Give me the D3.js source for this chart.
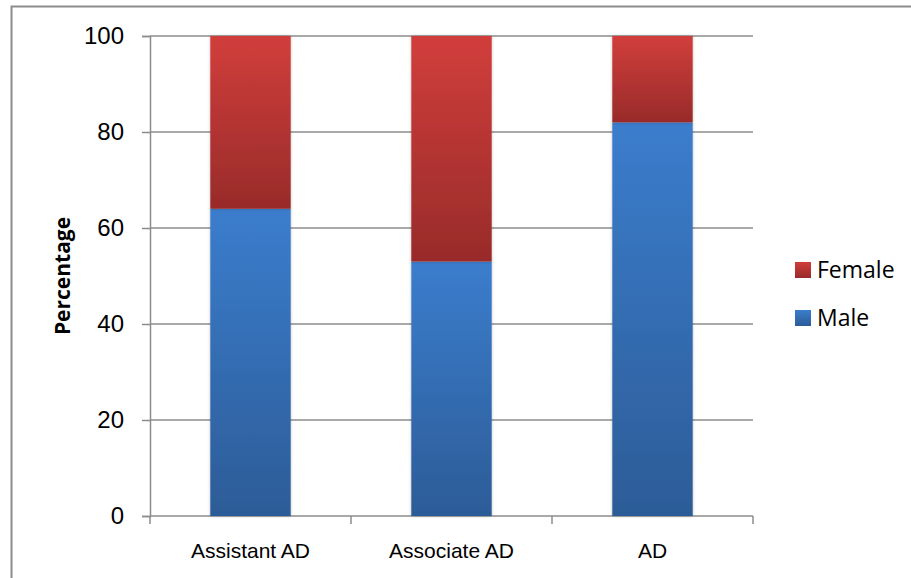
<!DOCTYPE html>
<html>
<head>
<meta charset="utf-8">
<script src="https://cdn.jsdelivr.net/npm/d3@7"></script>
<style>
  body { margin: 0; background: #fff; }
  svg { font-family: "Open Sans", sans-serif; }
</style>
</head>
<body>
<svg id="chart" width="911" height="578"></svg>
<script>
// data
var categories = ["Assistant AD", "Associate AD", "AD"];
var male = [64, 53, 82];
var female = [36, 47, 18];
var yTicks = [0, 20, 40, 60, 80, 100];

var svg = d3.select("#chart");
var margin = { left: 150, top: 36, right: 158, bottom: 62 };
var width = 911 - margin.left - margin.right,
  height = 578 - margin.top - margin.bottom;

// outer chart frame
svg.append("rect")
  .attr("x", 11.5).attr("y", 6.5)
  .attr("width", 920).attr("height", 600)
  .attr("fill", "none").attr("stroke", "#8c8c8c").attr("stroke-width", 2);

var defs = svg.append("defs");
function grad(id, c0, c1) {
  var g = defs.append("linearGradient").attr("id", id)
    .attr("x1", 0).attr("y1", 0).attr("x2", 0).attr("y2", 1);
  g.append("stop").attr("offset", "0%").attr("stop-color", c0);
  g.append("stop").attr("offset", "100%").attr("stop-color", c1);
}
grad("gMale", "#3b7dcd", "#2c5c97");
grad("gFemale", "#d13e3b", "#982b2a");
var sh = defs.append("filter").attr("id", "shadow")
  .attr("x", "-10%").attr("y", "-10%").attr("width", "120%").attr("height", "120%");
sh.append("feDropShadow").attr("dx", 0).attr("dy", 0).attr("stdDeviation", 1.5)
  .attr("flood-color", "#000").attr("flood-opacity", 0.25);

var x = d3.scaleBand().domain(categories).range([0, width]).paddingInner(0.6).paddingOuter(0.3);
var xb = d3.scaleBand().domain(categories).range([0, width]);
var y = d3.scaleLinear().domain([0, 100]).range([height, 0]);

var g = svg.append("g").attr("transform", "translate(" + margin.left + "," + margin.top + ")");

// gridlines
g.append("g").selectAll("line").data(yTicks.filter(function (d) { return d > 0; }))
  .enter().append("line")
  .attr("x1", 0).attr("x2", width)
  .attr("y1", function (d) { return y(d); }).attr("y2", function (d) { return y(d); })
  .attr("stroke", "#8c8c8c").attr("stroke-width", 1.5);

// y axis
var yAxis = g.append("g").call(d3.axisLeft(y).tickValues(yTicks).tickSize(8).tickPadding(18));
yAxis.select(".domain").attr("stroke", "#8c8c8c").attr("stroke-width", 1.5);
yAxis.selectAll(".tick line").attr("stroke", "#8c8c8c").attr("stroke-width", 1.5);
yAxis.selectAll("text").attr("font-size", 24).attr("fill", "#000");

// x axis with ticks at band boundaries
var xAxis = g.append("g").attr("transform", "translate(0," + height + ")")
  .call(d3.axisBottom(x).tickSize(0).tickPadding(27));
xAxis.select(".domain").remove();
xAxis.selectAll("text").attr("font-size", 21).attr("fill", "#000");
var bounds = categories.map(function (c) { return xb(c); }).concat([width]);
xAxis.selectAll("line.sep").data(bounds).enter().append("line").attr("class", "sep")
  .attr("x1", function (d) { return d; }).attr("x2", function (d) { return d; })
  .attr("y1", 0).attr("y2", 8)
  .attr("stroke", "#8c8c8c").attr("stroke-width", 1.5);
xAxis.append("line").attr("x1", 0).attr("x2", width).attr("y1", 0).attr("y2", 0)
  .attr("stroke", "#8c8c8c").attr("stroke-width", 1.5);

// stacked bars
var bars = g.append("g").selectAll("g").data(categories).enter().append("g");
bars.append("rect")
  .attr("x", function (d) { return x(d); })
  .attr("width", x.bandwidth())
  .attr("y", function (d, i) { return y(male[i]); })
  .attr("height", function (d, i) { return height - y(male[i]); })
  .attr("fill", "url(#gMale)").attr("filter", "url(#shadow)");
bars.append("rect")
  .attr("x", function (d) { return x(d); })
  .attr("width", x.bandwidth())
  .attr("y", function (d, i) { return y(male[i] + female[i]); })
  .attr("height", function (d, i) { return y(male[i]) - y(male[i] + female[i]); })
  .attr("fill", "url(#gFemale)").attr("filter", "url(#shadow)");

// y axis title
svg.append("text")
  .attr("transform", "translate(70," + (margin.top + height / 2) + ") rotate(-90)")
  .attr("text-anchor", "middle")
  .attr("font-size", 21).attr("font-weight", "bold")
  .text("Percentage");

// legend
var legend = svg.append("g").attr("transform", "translate(795,262)");
var items = [{ name: "Female", fill: "url(#gFemale)" }, { name: "Male", fill: "url(#gMale)" }];
var li = legend.selectAll("g").data(items).enter().append("g")
  .attr("transform", function (d, i) { return "translate(0," + i * 48 + ")"; });
li.append("rect").attr("width", 16).attr("height", 16).attr("fill", function (d) { return d.fill; });
li.append("text").attr("x", 22).attr("y", 8).attr("dy", "0.35em")
  .attr("font-size", 23).text(function (d) { return d.name; });
</script>
</body>
</html>
